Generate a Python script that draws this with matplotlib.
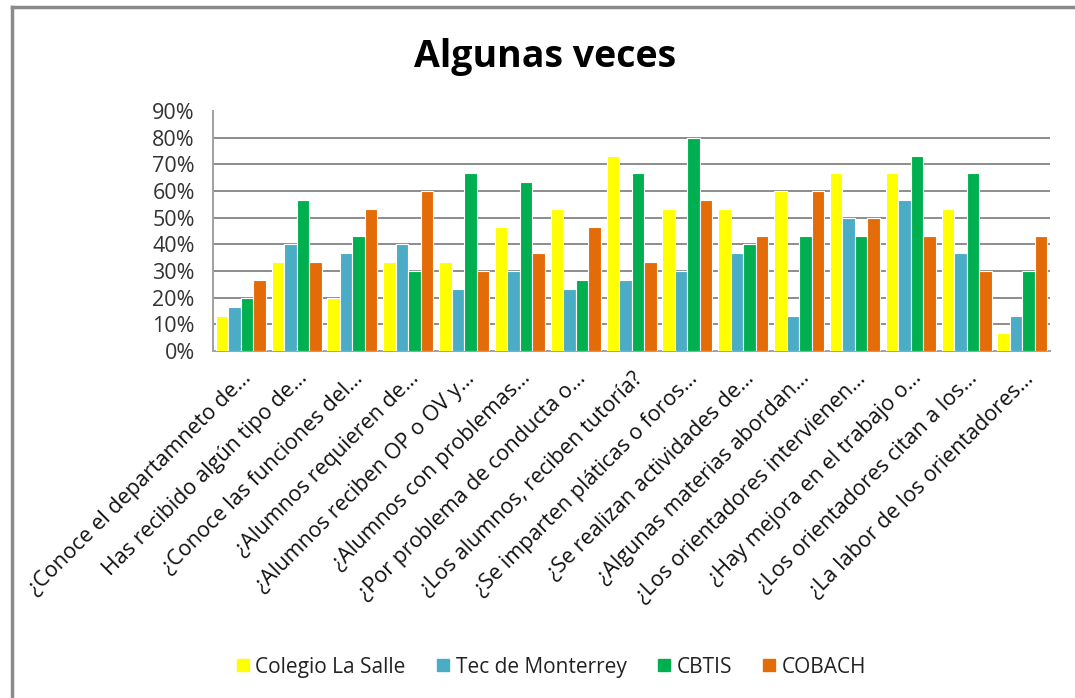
import numpy as np
import matplotlib.pyplot as plt
from matplotlib.lines import Line2D

# ----------------- DATA -----------------
questions = [
    "¿Conoce el departamneto de…",
    "Has recibido algún tipo de…",
    "¿Conoce las funciones del…",
    "¿Alumnos requieren de…",
    "¿Alumnos reciben OP o OV y…",
    "¿Alumnos con problemas…",
    "¿Por problema de conducta o…",
    "¿Los alumnos, reciben tutoría?",
    "¿Se imparten pláticas o foros…",
    "¿Se realizan actividades de…",
    "¿Algunas materias abordan…",
    "¿Los orientadores intervienen…",
    "¿Hay mejora en el trabajo o…",
    "¿Los orientadores citan a los…",
    "¿La labor de los orientadores…",
]

schools = ["Colegio La Salle", "Tec de Monterrey", "CBTIS", "COBACH"]

la_salle = [13.3, 33.3, 20.0, 33.3, 33.3, 46.7, 53.3, 73.3, 53.3, 53.3, 60.0, 66.7, 66.7, 53.3, 6.7]
tec      = [16.7, 40.0, 36.7, 40.0, 23.3, 30.0, 23.3, 26.7, 30.0, 36.7, 13.3, 50.0, 56.7, 36.7, 13.3]
cbtis    = [20.0, 56.7, 43.3, 30.0, 66.7, 63.3, 26.7, 66.7, 80.0, 40.0, 43.3, 43.3, 73.3, 66.7, 30.0]
cobach   = [26.7, 33.3, 53.3, 60.0, 30.0, 36.7, 46.7, 33.3, 56.7, 43.3, 60.0, 50.0, 43.3, 30.0, 43.3]

colors = ["#FFFF00", "#4BACC6", "#00B050", "#E36C09"]
# ----------------------------------------

plt.rcParams["font.family"] = ["Open Sans", "DejaVu Sans"]

fig = plt.figure(figsize=(10.75, 6.98), dpi=100)
ax = fig.add_axes([0.198, 0.497, 0.779, 0.344])

x = np.arange(len(questions))
width = 0.224
series = [la_salle, tec, cbtis, cobach]
for k, (vals, c, name) in enumerate(zip(series, colors, schools)):
    ax.bar(x + (k - 1.5) * width, vals, width, color=c, edgecolor="white",
           linewidth=0.8, label=name, zorder=3)

ax.set_xlim(-0.5, len(questions) - 0.5)
ax.set_ylim(0, 90)
ax.set_yticks(np.arange(0, 91, 10))
ax.set_yticklabels([f"{v}%" for v in range(0, 91, 10)], fontsize=15.5, color="#333333")
for v in range(10, 81, 10):
    ax.axhline(v, color="#8c8c8c", linewidth=1.4, zorder=1)

ax.set_xticks(x)
ax.set_xticklabels(questions, rotation=45, ha="right", va="top",
                   rotation_mode="anchor", fontsize=15.5, color="#111111")
ax.tick_params(axis="y", length=0, pad=13)
ax.tick_params(axis="x", length=0, pad=12)

for s in ["top", "right"]:
    ax.spines[s].set_visible(False)
for s in ["left", "bottom"]:
    ax.spines[s].set_color("#a0a0a0")
    ax.spines[s].set_linewidth(1.4)

fig.text(0.507, 0.918, "Algunas veces", ha="center", va="center",
         fontsize=27, fontweight="bold")

handles = [Line2D([], [], marker="s", linestyle="none", markersize=9,
                  markerfacecolor=c, markeredgecolor=c) for c in colors]
leg = fig.legend(handles, schools, loc="center", bbox_to_anchor=(0.512, 0.044),
                 ncol=4, frameon=False, fontsize=15, handletextpad=0.2,
                 columnspacing=1.4, handlelength=0.8)
for t in leg.get_texts():
    t.set_color("#222222")

# chart frame (left and top edges visible in the original)
fig.add_artist(Line2D([0.0116, 0.0116], [0.0, 0.99], transform=fig.transFigure,
                      color="#8a8a8a", linewidth=2.5))
fig.add_artist(Line2D([0.0116, 1.0], [0.99, 0.99], transform=fig.transFigure,
                      color="#8a8a8a", linewidth=2.5))

fig.savefig("out.png", dpi=100)
